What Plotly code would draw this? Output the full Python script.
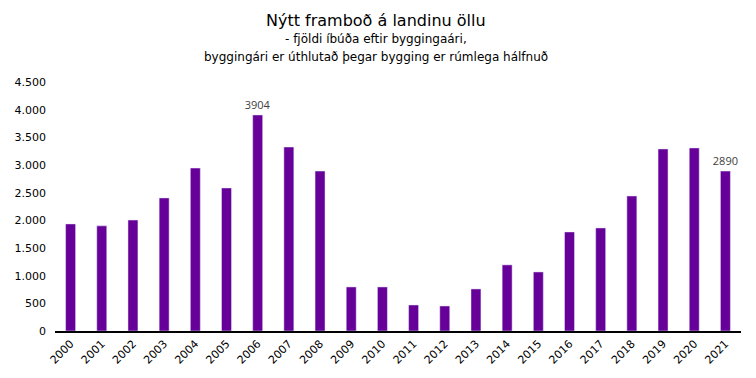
import plotly.graph_objects as go

years = [str(y) for y in range(2000, 2022)]
values = [1935, 1900, 2005, 2405, 2945, 2585, 3904, 3325, 2890, 796, 796, 470, 452, 760, 1195, 1067,
          1790, 1863, 2440, 3290, 3308, 2890]
labels = ["", "", "", "", "", "", "3904", "", "", "", "", "", "", "", "", "", "", "", "", "", "", "2890"]

title_lines = ["Nýtt framboð á landinu öllu",
               "- fjöldi íbúða eftir byggingaári,",
               "byggingári er úthlutað þegar bygging er rúmlega hálfnuð"]

fig = go.Figure(go.Bar(
    x=years, y=values, marker_color="#660099", width=0.32,
    text=labels, textposition="outside", cliponaxis=False, constraintext="none",
    textfont=dict(family="Open Sans", size=11, color="#404040"),
))

top, bottom = 82, 331
def py(pix):
    return (bottom - pix) / (bottom - top)

for txt, pix, size in zip(title_lines, [20, 39, 57], [16, 12, 12]):
    fig.add_annotation(text=txt, x=0.468, xref="paper", y=py(pix), yref="paper",
                       xanchor="center", yanchor="middle", showarrow=False,
                       font=dict(family="DejaVu Sans", size=size, color="black"))

fig.update_layout(
    width=756, height=378,
    margin=dict(l=55, r=15, t=82, b=47),
    paper_bgcolor="white", plot_bgcolor="white",
    separators=",.",
    showlegend=False,
    font=dict(family="DejaVu Sans", color="black"),
)
fig.update_xaxes(showline=True, linecolor="black", linewidth=2, tickangle=-45,
                 tickfont=dict(size=11), showgrid=False, ticks="")
fig.update_yaxes(range=[0, 4500], dtick=500, tickformat=",d", showgrid=False, zeroline=False,
                 showline=False, tickfont=dict(size=11), ticks="", ticklabelstandoff=8)

fig.write_html("out.html")
